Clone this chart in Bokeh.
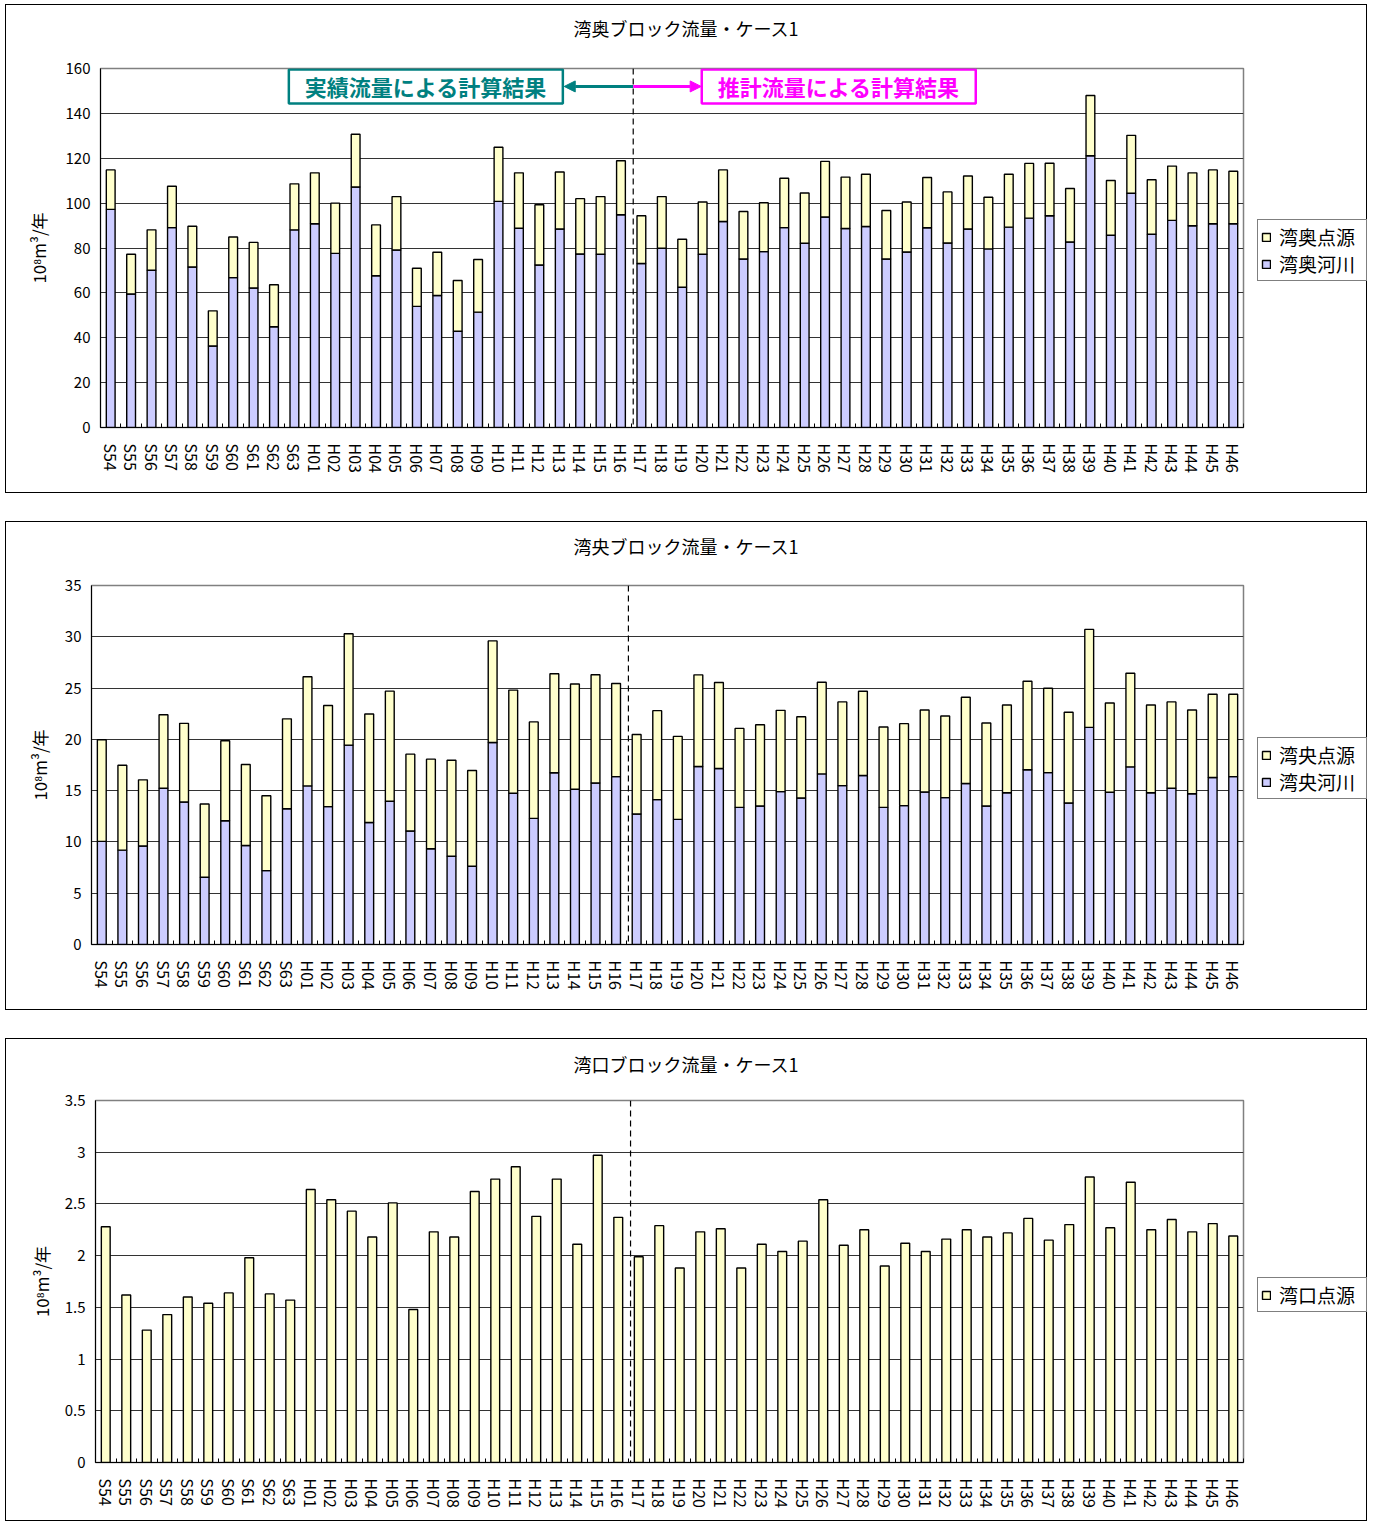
import numpy as np
from bokeh.plotting import figure
from bokeh.models import (ColumnDataSource, Range1d, FixedTicker, Span, Label, Title,
                          Arrow, NormalHead, Legend, LegendItem, NumeralTickFormatter)
from bokeh.layouts import column, row
from bokeh.embed import file_html
from bokeh.resources import INLINE

# ---------------- data ----------------
years = ["S54", "S55", "S56", "S57", "S58", "S59", "S60", "S61", "S62", "S63",
         "H01", "H02", "H03", "H04", "H05", "H06", "H07", "H08", "H09", "H10",
         "H11", "H12", "H13", "H14", "H15", "H16", "H17", "H18", "H19", "H20",
         "H21", "H22", "H23", "H24", "H25", "H26", "H27", "H28", "H29", "H30",
         "H31", "H32", "H33", "H34", "H35", "H36", "H37", "H38", "H39", "H40",
         "H41", "H42", "H43", "H44", "H45", "H46"]

# 湾奥ブロック: river (湾奥河川) and total (河川 + 点源)
wanoku_river = [97.2, 59.5, 70.1, 89.1, 71.5, 36.3, 66.8, 62.2, 44.9, 88.1,
                90.8, 77.6, 107.2, 67.6, 79.1, 54.0, 58.8, 42.9, 51.4, 100.8,
                88.8, 72.4, 88.5, 77.3, 77.2, 94.8, 73.1, 79.9, 62.5, 77.2,
                91.8, 75.1, 78.4, 89.1, 82.1, 93.8, 88.7, 89.6, 75.1, 78.2,
                89.0, 82.2, 88.5, 79.6, 89.3, 93.3, 94.4, 82.7, 121.1, 85.7,
                104.4, 86.1, 92.3, 89.9, 90.8, 90.8]
wanoku_total = [114.8, 77.2, 88.1, 107.5, 89.7, 52.0, 84.9, 82.5, 63.6, 108.6,
                113.5, 100.0, 130.7, 90.3, 102.9, 71.0, 78.1, 65.5, 74.9, 124.9,
                113.5, 99.3, 113.9, 102.0, 102.9, 118.9, 94.4, 102.9, 83.9, 100.5,
                114.8, 96.3, 100.2, 111.1, 104.5, 118.6, 111.6, 112.9, 96.7, 100.5,
                111.4, 105.0, 112.1, 102.6, 112.9, 117.7, 117.8, 106.5, 148.0, 110.1,
                130.2, 110.4, 116.5, 113.5, 114.8, 114.2]

# 湾央ブロック
wano_river = [10.05, 9.2, 9.6, 15.23, 13.9, 6.56, 12.07, 9.65, 7.2, 13.24,
              15.46, 13.44, 19.44, 11.9, 13.96, 11.06, 9.33, 8.61, 7.63, 19.7,
              14.74, 12.3, 16.75, 15.13, 15.75, 16.37, 12.72, 14.12, 12.2, 17.35,
              17.16, 13.37, 13.5, 14.9, 14.29, 16.63, 15.49, 16.47, 13.37, 13.54,
              14.87, 14.32, 15.69, 13.5, 14.8, 17.03, 16.76, 13.8, 21.17, 14.84,
              17.32, 14.8, 15.23, 14.7, 16.28, 16.37]
wano_total = [19.96, 17.48, 16.05, 22.4, 21.56, 13.7, 19.86, 17.55, 14.5, 22.0,
              26.1, 23.3, 30.3, 22.47, 24.7, 18.56, 18.07, 17.97, 16.96, 29.6,
              24.8, 21.7, 26.4, 25.4, 26.3, 25.44, 20.48, 22.8, 20.29, 26.29,
              25.54, 21.07, 21.43, 22.83, 22.2, 25.57, 23.65, 24.69, 21.2, 21.53,
              22.86, 22.28, 24.1, 21.6, 23.35, 25.67, 24.98, 22.64, 30.72, 23.55,
              26.45, 23.35, 23.65, 22.86, 24.4, 24.4]

# 湾口ブロック: point sources only
wanguchi_point = [2.28, 1.62, 1.28, 1.43, 1.60, 1.54, 1.64, 1.98, 1.63, 1.57,
                  2.64, 2.54, 2.43, 2.18, 2.51, 1.48, 2.23, 2.18, 2.62, 2.74,
                  2.86, 2.38, 2.74, 2.11, 2.97, 2.37, 1.99, 2.29, 1.88, 2.23,
                  2.26, 1.88, 2.11, 2.04, 2.14, 2.54, 2.10, 2.25, 1.90, 2.12,
                  2.04, 2.16, 2.25, 2.18, 2.22, 2.36, 2.15, 2.30, 2.76, 2.27,
                  2.71, 2.25, 2.35, 2.23, 2.31, 2.19]

wanoku_ticks = [0, 20, 40, 60, 80, 100, 120, 140, 160]
wano_ticks = [0, 5, 10, 15, 20, 25, 30, 35]
wanguchi_ticks = [0, 0.5, 1, 1.5, 2, 2.5, 3, 3.5]

RIVER = "#CCCCFF"
POINT = "#FFFFCC"
FONT = "Noto Sans CJK JP"
TEAL = "#008080"
MAGENTA = "#FF00FF"
BORDER = "1px solid #000000"

split_index = years.index("H17")


def make_panel(title, ticks, stacks, height, mb_left, mb_top, mb_bottom,
               ylab_standoff, title_offset, title_gap, legend_y):
    x = list(range(len(years)))
    p = figure(width=1245, height=height, output_backend="svg",
               toolbar_location=None,
               x_range=Range1d(-0.5, len(years) - 0.5),
               y_range=Range1d(ticks[0], ticks[-1]),
               min_border_left=mb_left, min_border_right=8,
               min_border_top=mb_top, min_border_bottom=mb_bottom)
    p.styles = {"border-left": BORDER, "border-top": BORDER, "border-bottom": BORDER}
    p.title.text = ""
    # blank spacer between the chart title and the plot area, then the title
    p.add_layout(Title(text=" ", text_font=FONT, text_font_size=title_gap,
                       standoff=0), "above")
    p.add_layout(Title(text=title, text_font=FONT, text_font_size="18px",
                       text_font_style="normal", text_color="black", align="left",
                       offset=title_offset, vertical_align="bottom", standoff=2),
                 "above")

    sources = []
    for bottom, top, color, label in stacks:
        src = ColumnDataSource(dict(x=x, b=bottom, t=top))
        sources.append(src)
        p.vbar(x="x", width=0.43, bottom="b", top="t", source=src,
               fill_color=color, line_color="black", line_width=1.4)

    # axes
    xa = p.xaxis[0]
    xa.ticker = FixedTicker(ticks=x, minor_ticks=[i - 0.5 for i in range(len(years) + 1)])
    xa.major_label_overrides = {i: lab for i, lab in enumerate(years)}
    xa.major_label_orientation = -np.pi / 2
    xa.major_tick_in = 0
    xa.major_tick_out = 0
    xa.minor_tick_in = 4
    xa.minor_tick_out = 0
    xa.minor_tick_line_color = "black"
    xa.axis_line_color = "black"
    xa.major_label_standoff = 16
    xa.major_label_text_font = FONT
    xa.major_label_text_font_size = "16px"
    xa.major_label_text_color = "black"

    ya = p.yaxis[0]
    ya.ticker = FixedTicker(ticks=ticks)
    ya.formatter = NumeralTickFormatter(format="0.[0]")
    ya.major_tick_in = 0
    ya.major_tick_out = 0
    ya.minor_tick_line_color = None
    ya.axis_line_color = "black"
    ya.major_label_standoff = 10
    ya.major_label_text_font = FONT
    ya.major_label_text_font_size = "15px"
    ya.major_label_text_color = "black"
    ya.axis_label = "10⁸m³/年"
    ya.axis_label_text_font = FONT
    ya.axis_label_text_font_size = "17px"
    ya.axis_label_text_font_style = "normal"
    ya.axis_label_text_color = "black"
    ya.axis_label_standoff = ylab_standoff

    p.xgrid.grid_line_color = None
    p.ygrid.grid_line_color = "#333333"
    p.ygrid.grid_line_width = 1
    p.outline_line_color = "#808080"
    p.outline_line_width = 1.5

    p.add_layout(Span(location=split_index - 0.4, dimension="height",
                      line_color="black", line_width=1.2, line_dash="6 4"))

    # legend box at the right side of the chart area; the series renderers
    # here are hidden, they only supply the legend swatches
    lg = figure(width=117, height=height, output_backend="svg", toolbar_location=None,
                x_range=Range1d(-0.5, len(years) - 0.5),
                y_range=Range1d(ticks[0], ticks[-1]),
                x_axis_location=None, y_axis_location=None,
                min_border_left=0, min_border_right=0, min_border_top=0,
                min_border_bottom=0)
    lg.styles = {"border-right": BORDER, "border-top": BORDER, "border-bottom": BORDER}
    lg.outline_line_color = None
    lg.xgrid.grid_line_color = None
    lg.ygrid.grid_line_color = None
    items = []
    for (bottom, top, color, label), src in zip(stacks, sources):
        r = lg.vbar(x="x", width=0.43, bottom="b", top="t", source=src,
                    fill_color=color, line_color="black", line_width=1.4,
                    visible=False)
        items.append(LegendItem(label=label, renderers=[r]))
    items = items[::-1]
    legend = Legend(items=items, location=(7, legend_y), margin=0,
                    padding=3, spacing=0, label_height=27, label_width=84,
                    glyph_width=10, glyph_height=10, label_standoff=8,
                    label_text_font=FONT, label_text_font_size="19px",
                    label_text_color="black", click_policy="none",
                    border_line_color="black", border_line_width=1,
                    background_fill_color="white", background_fill_alpha=1)
    lg.add_layout(legend)
    return p, lg


p1, l1 = make_panel("湾奥ブロック流量・ケース1", wanoku_ticks,
                    [([0] * len(years), wanoku_river, RIVER, "湾奥河川"),
                     (wanoku_river, wanoku_total, POINT, "湾奥点源")],
                    height=489, mb_left=94, mb_top=63, mb_bottom=67, ylab_standoff=12,
                    title_offset=473, title_gap="17px", legend_y=146)

# annotation boxes and arrows on the first panel
yann = 152.0
p1.add_layout(Label(x=15.44, y=yann, text="実績流量による計算結果",
                    text_align="center", text_baseline="middle",
                    text_font=FONT, text_font_size="22px", text_font_style="bold",
                    text_color=TEAL, border_line_color=TEAL, border_line_width=2.5,
                    background_fill_color="white", padding=(16, 1)))
p1.add_layout(Label(x=35.67, y=yann, text="推計流量による計算結果",
                    text_align="center", text_baseline="middle",
                    text_font=FONT, text_font_size="22px", text_font_style="bold",
                    text_color=MAGENTA, border_line_color=MAGENTA, border_line_width=2.5,
                    background_fill_color="white", padding=(16, 1)))
p1.add_layout(Arrow(x_start=split_index - 0.4, y_start=yann, x_end=22.22, y_end=yann,
                    line_color=TEAL, line_width=3,
                    end=NormalHead(size=11, fill_color=TEAL, line_color=TEAL)))
p1.add_layout(Arrow(x_start=split_index - 0.4, y_start=yann, x_end=28.93, y_end=yann,
                    line_color=MAGENTA, line_width=3,
                    end=NormalHead(size=11, fill_color=MAGENTA, line_color=MAGENTA)))

p2, l2 = make_panel("湾央ブロック流量・ケース1", wano_ticks,
                    [([0] * len(years), wano_river, RIVER, "湾央河川"),
                     (wano_river, wano_total, POINT, "湾央点源")],
                    height=489, mb_left=85, mb_top=63, mb_bottom=67, ylab_standoff=10,
                    title_offset=482, title_gap="16px", legend_y=145)

p3, l3 = make_panel("湾口ブロック流量・ケース1", wanguchi_ticks,
                    [([0] * len(years), wanguchi_point, POINT, "湾口点源")],
                    height=483, mb_left=89, mb_top=61, mb_bottom=60, ylab_standoff=8,
                    title_offset=478, title_gap="15px", legend_y=150)

layout = column(row(p1, l1, spacing=0), row(p2, l2, spacing=0),
                row(p3, l3, spacing=0), spacing=28, margin=(4, 0, 0, 5))
open("out.html", "w").write(file_html(layout, INLINE))
